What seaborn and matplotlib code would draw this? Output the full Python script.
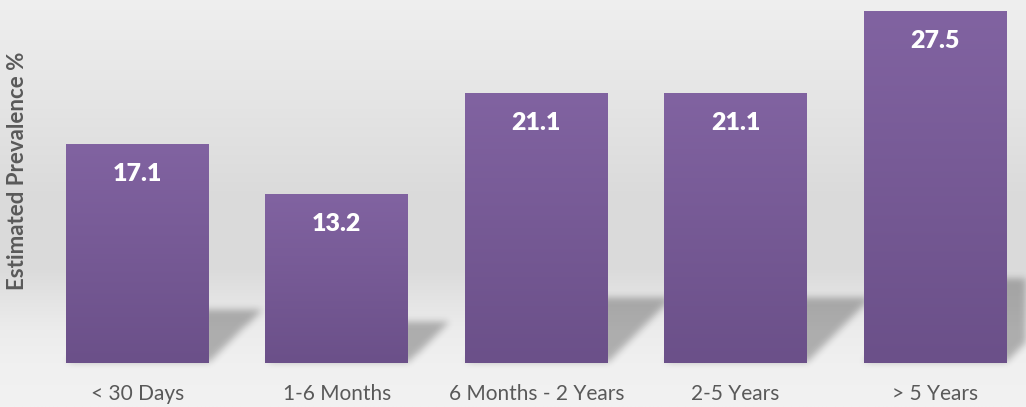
import numpy as np
import matplotlib
matplotlib.use("Agg")
import matplotlib.pyplot as plt
import seaborn as sns
from matplotlib.colors import to_rgb

# ---------------- data ----------------
categories = ["< 30 Days", "1-6 Months", "6 Months - 2 Years", "2-5 Years", "> 5 Years"]
values = [17.1, 13.2, 21.1, 21.1, 27.5]
value_labels = ["17.1", "13.2", "21.1", "21.1", "27.5"]
y_label = "Estimated Prevalence %"

# ---------------- style ----------------
sns.set_theme(style="white")
plt.rcParams["font.family"] = ["Lato", "DejaVu Sans"]

W, H, DPI = 1026, 407, 100
fig = plt.figure(figsize=(W / DPI, H / DPI), dpi=DPI)

# background gradient (wall + floor)
bg = fig.add_axes([0, 0, 1, 1], zorder=-5)
stops_y = np.array([0, 100, 200, 270, 300, 330, 363, 407]) / H
stops_v = np.array([239, 229, 218, 219, 228, 236, 240, 242]) / 255
yy = np.linspace(0, 1, H)
col = np.interp(yy, stops_y, stops_v)
img = np.repeat(col[:, None], 4, axis=1)
bg.imshow(np.dstack([img, img, img]), extent=(0, 1, 0, 1), aspect="auto",
          origin="upper", interpolation="bilinear")
bg.set_xlim(0, 1); bg.set_ylim(0, 1)
bg.axis("off")

# main axes
base_px = 363
px_per_unit = 12.8
ax = fig.add_axes([0, (H - base_px) / H, 1, base_px / H], zorder=1)
ax.set_facecolor("none")

bar_w = 0.717
top_c = np.array(to_rgb("#8163a1"))
bot_c = np.array(to_rgb("#6b5089"))
sns.barplot(x=categories, y=values, color="#765a94", saturation=1,
            width=bar_w, ax=ax, zorder=3, linewidth=0, edgecolor="none")

xlim = (-0.6896, 4.456)
ylim = (0, base_px / px_per_unit)
xpx_per_unit = W / (xlim[1] - xlim[0])

# shadows cast behind the bars (computed in data coordinates)
sy0, sy1 = -1.5, 10.0
nx = int((xlim[1] - xlim[0]) * xpx_per_unit)
ny = int((sy1 - sy0) * px_per_unit)
gx = np.linspace(xlim[0], xlim[1], nx)
gy = np.linspace(sy0, sy1, ny)
GX, GY = np.meshgrid(gx, gy)
mask = np.zeros_like(GX)
slope = px_per_unit / xpx_per_unit * 1.0
for i, v in enumerate(values):
    hs = 0.24 * v
    L = i - bar_w / 2
    R = i + bar_w / 2
    inside = (GY >= 0) & (GY <= hs) & (GX >= L + slope * GY) & (GX <= R + slope * GY)
    mask = np.maximum(mask, inside.astype(float))

def gblur(a, sigma):
    r = int(3 * sigma)
    k = np.exp(-0.5 * (np.arange(-r, r + 1) / sigma) ** 2)
    k /= k.sum()
    a = np.apply_along_axis(lambda m: np.convolve(m, k, mode="same"), 0, a)
    a = np.apply_along_axis(lambda m: np.convolve(m, k, mode="same"), 1, a)
    return a

mask = gblur(mask, 3.5)
shadow = np.zeros((ny, nx, 4))
shadow[..., 3] = mask * 0.27
ax.imshow(shadow, extent=(xlim[0], xlim[1], sy0, sy1), origin="lower",
          aspect="auto", zorder=2, interpolation="bilinear", clip_on=False)

# gradient fill on bars
for p in ax.patches:
    x0 = p.get_x(); w = p.get_width(); h = p.get_height()
    t = np.linspace(0, 1, 200)[:, None]
    grad = bot_c[None, :] * (1 - t) + top_c[None, :] * t
    im = ax.imshow(grad[:, None, :], extent=(x0, x0 + w, 0, h), origin="lower",
                   aspect="auto", zorder=4, interpolation="bilinear")
    im.set_clip_path(p)

# value labels inside the bars
for i, (v, lab) in enumerate(zip(values, value_labels)):
    ax.annotate(lab, xy=(i, v), xytext=(0, -30 * 72 / DPI), textcoords="offset points",
                ha="center", va="center", color="white", fontsize=18,
                fontweight="heavy", zorder=6)

ax.set_xlim(*xlim)
ax.set_ylim(*ylim)
ax.set_yticks([])
ax.set_xlabel("")
ax.set_ylabel("")
for s in ax.spines.values():
    s.set_visible(False)
ax.tick_params(axis="x", length=0, pad=15, labelsize=15, labelcolor="#595959")

fig.text(18 / W, 1 - 171 / H, y_label, rotation=90, ha="center", va="center",
         fontsize=16, fontweight="bold", color="#595959")

fig.savefig("out.png", dpi=DPI)
